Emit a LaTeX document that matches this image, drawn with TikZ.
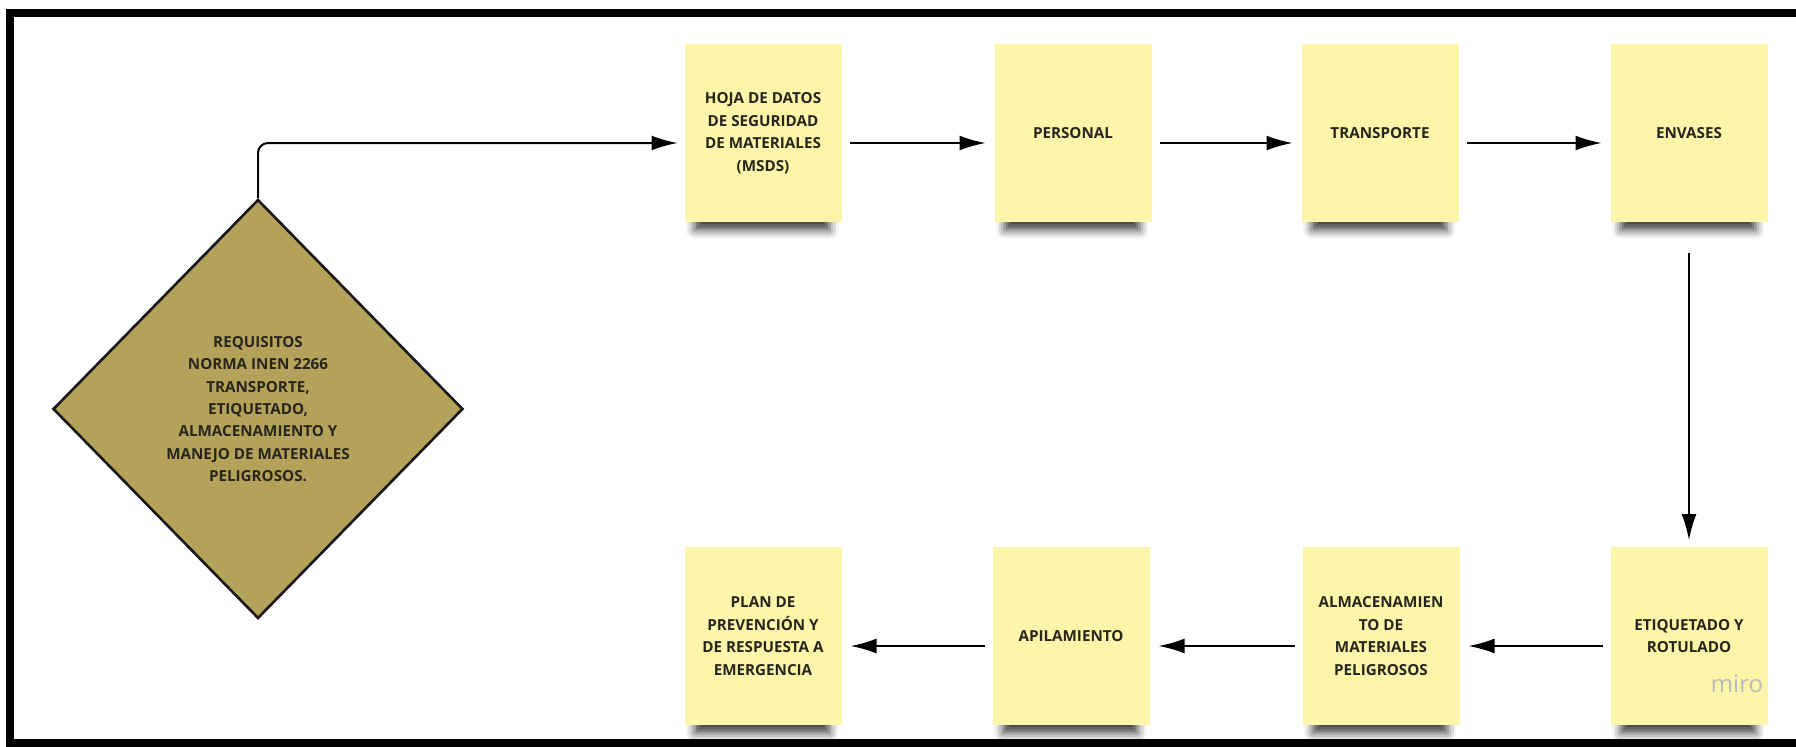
\documentclass[tikz,border=0pt]{standalone}
\usepackage{fontspec}
\setmainfont{Open Sans}
\usetikzlibrary{shapes.geometric,arrows.meta,shadows.blur}
\definecolor{notefill}{RGB}{253,245,170}
\definecolor{normfill}{RGB}{180,162,90}
\definecolor{inktext}{RGB}{40,38,28}
\begin{document}
\begin{tikzpicture}[x=0.5pt,y=-0.5pt,line width=1pt,
    note/.style={rectangle,fill=notefill,minimum width=78.5pt,minimum height=89pt,inner sep=2pt,
      align=center,text=inktext,font=\bfseries\fontsize{7.6}{11.3}\selectfont,
      blur shadow={shadow xshift=-0.5pt,shadow yshift=-12pt,shadow scale=0.86,shadow opacity=75,shadow blur radius=5pt}},
    norm/.style={diamond,draw=black!90,line width=1.3pt,fill=normfill,minimum width=205pt,minimum height=209.5pt,
      inner sep=0pt,align=center,text=inktext,font=\bfseries\fontsize{7.6}{11.2}\selectfont},
    flow/.style={-{Latex[length=13pt,width=7.5pt]},shorten <=3.5pt,shorten >=4pt}
  ]
  \useasboundingbox (0,0) rectangle (1796,746);
  \begin{scope}
    \clip (0,0) rectangle (1796,746);
    \draw[line width=4pt] (1810,13) -- (10,13) -- (10,742.5) -- (1810,742.5);
  \end{scope}

  \node[norm] (req) at (258,409) {REQUISITOS\\NORMA INEN 2266\\TRANSPORTE,\\ETIQUETADO,\\ALMACENAMIENTO Y\\MANEJO DE MATERIALES\\PELIGROSOS.};

  \node[note] (hoja) at (763,133) {HOJA DE DATOS\\DE SEGURIDAD\\DE MATERIALES\\(MSDS)};
  \node[note] (pers) at (1073,133) {PERSONAL};
  \node[note] (trans) at (1380,133) {TRANSPORTE};
  \node[note] (env) at (1689,133) {ENVASES};
  \node[note] (etiq) at (1689,636) {ETIQUETADO Y\\ROTULADO};
  \node[note] (alm) at (1381,636) {ALMACENAMIEN\\TO DE\\MATERIALES\\PELIGROSOS};
  \node[note] (apil) at (1071,636) {APILAMIENTO};
  \node[note] (plan) at (763,636) {PLAN DE\\PREVENCIÓN Y\\DE RESPUESTA A\\EMERGENCIA};

  \node[text=black!27,font=\fontsize{12}{12}\selectfont] (miro) at (1737,684) {miro};

  \draw[flow,rounded corners=5pt,shorten <=0pt,shorten >=3pt] (req.north) |- ([yshift=-5pt]hoja.west);
  \path[flow]
   ([yshift=-5pt]hoja.east) edge ([yshift=-5pt]pers.west)
   ([yshift=-5pt]pers.east) edge ([yshift=-5pt]trans.west)
   ([yshift=-5pt]trans.east) edge ([yshift=-5pt]env.west)
   (env.south) edge[shorten <=15pt,shorten >=3pt] (etiq.north)
   ([yshift=-5pt]etiq.west) edge ([yshift=-5pt]alm.east)
   ([yshift=-5pt]alm.west) edge ([yshift=-5pt]apil.east)
   ([yshift=-5pt]apil.west) edge ([yshift=-5pt]plan.east);
\end{tikzpicture}
\end{document}
